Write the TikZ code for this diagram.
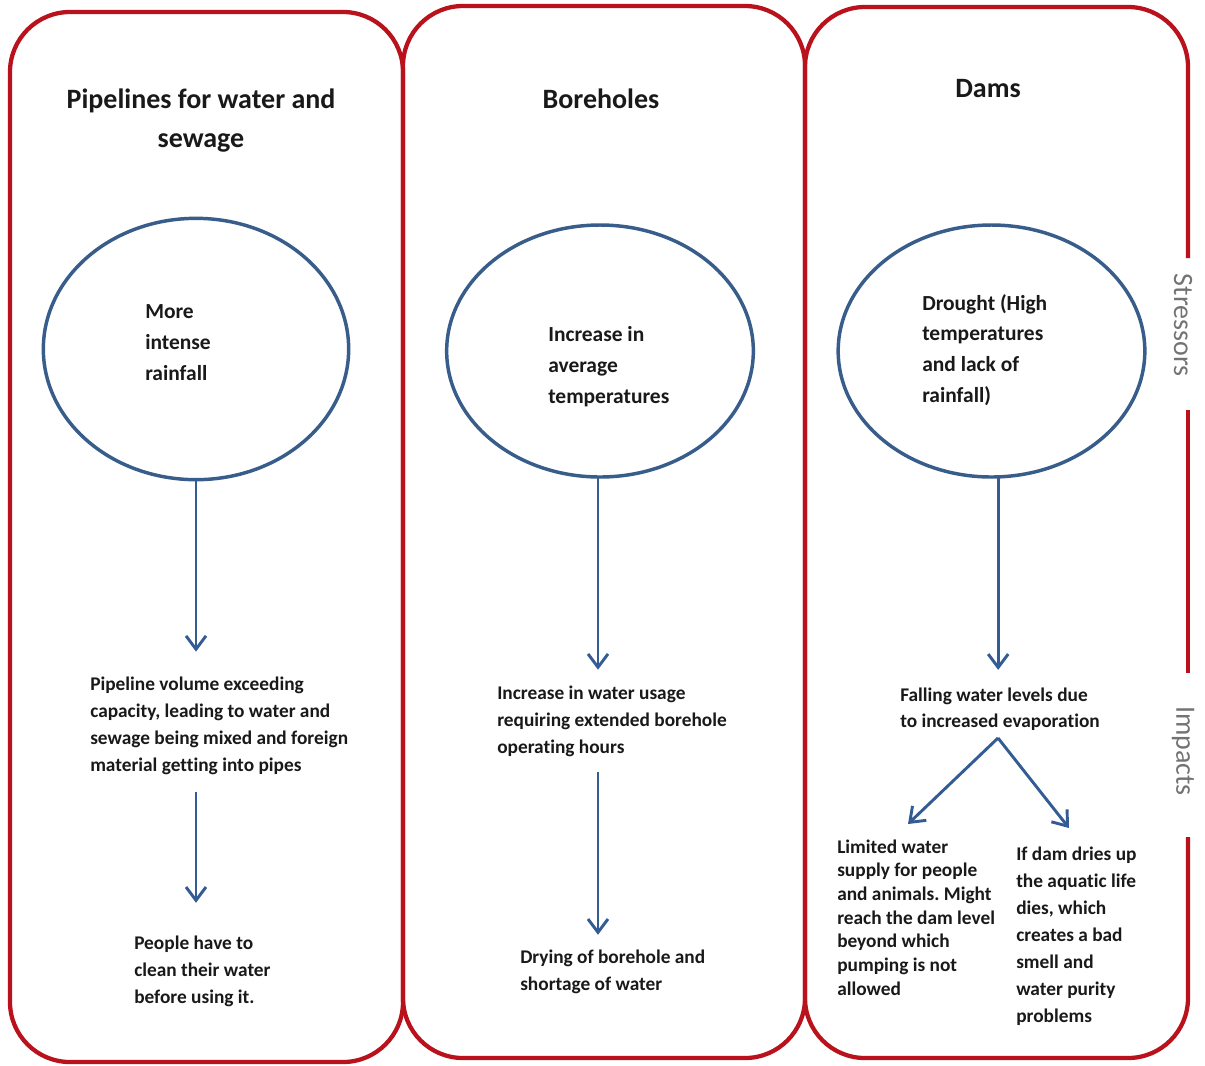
\documentclass[tikz,border=0pt]{standalone}
\usepackage{fontspec}
\setmainfont{Carlito}[Ligatures={NoCommon}]
\usetikzlibrary{shapes.geometric,arrows.meta}
\definecolor{panelred}{RGB}{185,18,28}
\definecolor{ellblue}{RGB}{56,93,138}
\definecolor{arrblue}{RGB}{52,92,148}
\definecolor{txt}{RGB}{25,25,25}
\definecolor{lblgray}{RGB}{115,115,115}
\frenchspacing
\begin{document}
\begin{tikzpicture}[x=0.75pt,y=-0.75pt,
  panel/.style={draw=panelred,line width=3.2pt,rounded corners=45pt},
  stressor/.style={ellipse,draw=ellblue,line width=2.6pt,inner sep=0pt,outer sep=0pt},
  arr/.style={draw=arrblue,line width=2.2pt,-{Straight Barb[length=10pt,width=15pt]}},
  titletext/.style={anchor=base,align=center,inner sep=0pt,text=txt,font=\bfseries\fontsize{21}{29.25}\selectfont},
  circtext/.style={anchor=base west,align=left,inner sep=0pt,text=txt,font=\bfseries\fontsize{16.1}{23}\selectfont},
  bodytext/.style={anchor=base west,align=left,inner sep=0pt,text=txt,font=\bfseries\fontsize{14.5}{#1}\selectfont},
  bodytext/.default=20.25,
  sidelabel/.style={rotate=-90,inner sep=0pt,text=lblgray,font=\fontsize{21}{25}\selectfont}]
\useasboundingbox[fill=white] (0,0) rectangle (1205,1065);

% panels
\draw[panel] (10,12) rectangle (403,1062);
\draw[panel] (403,6) rectangle (805,1058);
\draw[panel] (1188,258) -- (1188,7) -- (805,7) -- (805,1058) -- (1188,1058) -- (1188,837);
\draw[draw=panelred,line width=3.2pt] (1188,410) -- (1188,673);

% side labels
\node[sidelabel] (lstress) at (1183,325) {Stressors};
\node[sidelabel] (limpact) at (1183,751) {Impacts};

% titles (anchor = baseline of last line)
\node[titletext] (h1) at (201,147) {Pipelines for water and\\sewage};
\node[titletext] (h2) at (601,108) {Boreholes};
\node[titletext] (h3) at (988,97) {Dams};

% stressor ellipses
\node[stressor,minimum width=229pt,minimum height=196pt] (e1) at (196,349) {};
\node[stressor,minimum width=230pt,minimum height=189pt] (e2) at (600,351) {};
\node[stressor,minimum width=230pt,minimum height=189pt] (e3) at (991.5,351) {};

\node[circtext] (c1) at (145,380.3) {More\\intense\\rainfall};
\node[circtext] (c2) at (548,403.3) {Increase in\\average\\temperatures};
\node[circtext] (c3) at (922,402) {Drought (High\\temperatures\\and lack of\\rainfall)};

% impacts
\node[bodytext] (t1) at (90,771) {Pipeline volume exceeding\\capacity, leading to water and\\sewage being mixed and foreign\\material getting into pipes};
\node[bodytext=19.9] (t1b) at (134,1003) {People have to\\clean their water\\before using it.};
\node[bodytext=19.9] (t2) at (497,753) {Increase in water usage\\requiring extended borehole\\operating hours};
\node[bodytext] (t2b) at (520,990) {Drying of borehole and\\shortage of water};
\node[bodytext=19.5] (t3) at (900,727) {Falling water levels due\\to increased evaporation};
\node[bodytext=17.8] (t3a) at (837,995.4) {Limited water\\supply for people\\and animals. Might\\reach the dam level\\beyond which\\pumping is not\\allowed};
\node[bodytext] (t3b) at (1016,1022) {If dam dries up\\the aquatic life\\dies, which\\creates a bad\\smell and\\water purity\\problems};

% connectors
\draw[arr,shorten >=18.4pt] (e1.south) -- (e1.south |- t1.north);
\draw[arr,shorten <=12.75pt,shorten >=25pt] (e1.south |- t1.south) -- (e1.south |- t1b.north);
\draw[arr,shorten >=12.3pt] ([xshift=-1.5pt]e2.south) -- ([xshift=-1.5pt]e2.south |- t2.north);
\draw[arr,shorten <=11.25pt,shorten >=10.8pt] ([xshift=-1.5pt]e2.south |- t2.south) -- ([xshift=-1.5pt]e2.south |- t2b.north);
\draw[arr,shorten >=13pt] ([xshift=5pt]e3.south) -- ([xshift=5pt]e3.south |- t3.north);
\coordinate (split) at (998,738);
\coordinate (tipA) at (908,824);
\coordinate (tipB) at (1069,828);
\draw[arr] (split) -- (tipA);
\draw[arr] (split) -- (tipB);
\end{tikzpicture}
\end{document}
